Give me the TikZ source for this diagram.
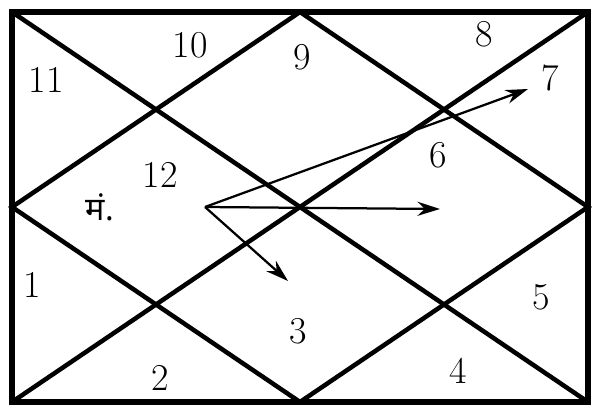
\documentclass[tikz,border=0pt]{standalone}
\usepackage{fontspec}
\newfontfamily\devfont[Script=Devanagari]{Noto Sans}
\usetikzlibrary{arrows.meta}
\tikzset{
  houseline/.style={line width=3.2pt, line cap=round, line join=miter},
  signnum/.style={font=\fontsize{27}{29}\selectfont, inner sep=0pt},
  aspect/.style={line width=1.6pt, -{Stealth[length=16pt, width=10pt]}}
}
\begin{document}
\begin{tikzpicture}[x=0.025cm, y=-0.025cm]
    \useasboundingbox (0,0) rectangle (594,413);
    % Outer frame
    \draw[houseline, line width=4pt] (12,12) rectangle (588,402);
    % Diagonals
    \draw[houseline] (12,12) -- (588,402);
    \draw[houseline] (588,12) -- (12,402);
    % Inner diamond
    \draw[houseline] (300,12) -- (588,207) -- (300,402) -- (12,207) -- cycle;

    % Sign numbers
    \node[signnum] (s1)  at (32,285)  {1};
    \node[signnum] (s2)  at (160,378) {2};
    \node[signnum] (s3)  at (298,331) {3};
    \node[signnum] (s4)  at (458,371) {4};
    \node[signnum] (s5)  at (541,297) {5};
    \node[signnum] (s6)  at (438,155) {6};
    \node[signnum] (s7)  at (550,78)  {7};
    \node[signnum] (s8)  at (484,34)  {8};
    \node[signnum] (s9)  at (302,57)  {9};
    \node[signnum] (s10) at (190,45)  {10};
    \node[signnum] (s11) at (46,80)   {11};
    \node[signnum] (s12) at (160,175) {12};
    % Planet
    \node[inner sep=0pt, font=\devfont\fontsize{23}{25}\selectfont] (mars) at (100,207) {मं.};

    % Aspects
    \coordinate (from) at (205,207);
    \coordinate (to3) at (288,281);
    \coordinate (to6) at (440,209);
    \coordinate (to7) at (528,89);
    \draw[aspect] (from) -- (to6);
    \draw[aspect] (from) -- (to7);
    \draw[aspect] (from) -- (to3);
\end{tikzpicture}
\end{document}
